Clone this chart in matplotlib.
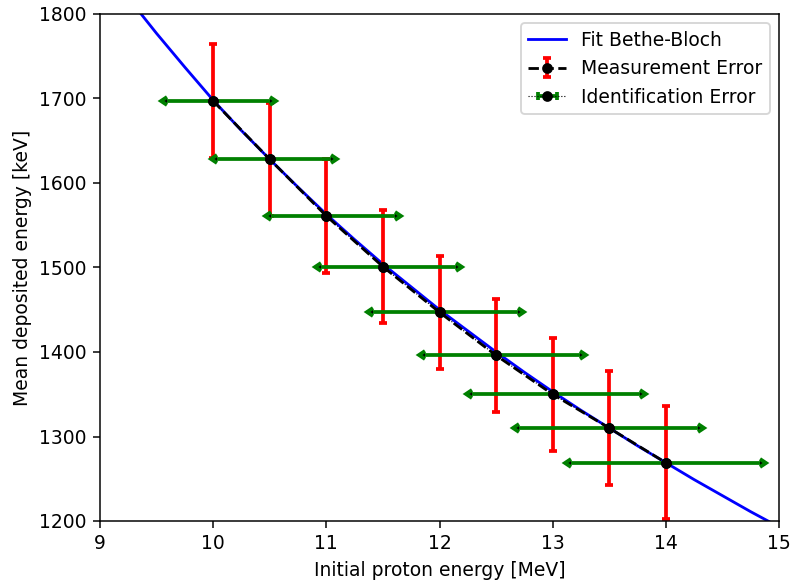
import matplotlib
matplotlib.use("Agg")
import matplotlib.pyplot as plt
from matplotlib import lines as mlines

# Measured points: initial proton energy vs. mean deposited energy
energy = [10.0, 10.5, 11.0, 11.5, 12.0, 12.5, 13.0, 13.5, 14.0]
deposit = [1697, 1628, 1561, 1501, 1447, 1396, 1350, 1310, 1269]
deposit_err = [67, 67, 67, 67, 67, 67, 67, 67, 67]
energy_err_lo = [0.41, 0.47, 0.49, 0.55, 0.59, 0.63, 0.71, 0.80, 0.84]
energy_err_hi = [0.50, 0.54, 0.61, 0.65, 0.69, 0.74, 0.77, 0.78, 0.83]

# Bethe-Bloch fit curve, tabulated
fit_energy = [9.0, 9.25, 9.5, 9.75, 10.0, 10.25, 10.5, 10.75, 11.0, 11.25,
              11.5, 11.75, 12.0, 12.25, 12.5, 12.75, 13.0, 13.25, 13.5,
              13.75, 14.0, 14.25, 14.5, 14.75, 15.0]
fit_deposit = [1862, 1819, 1777, 1737, 1698, 1662, 1628, 1595, 1563, 1533,
               1504, 1477, 1450, 1425, 1400, 1376, 1353, 1331, 1310,
               1289, 1269, 1249, 1230, 1211, 1193]

plt.rcParams['font.family'] = ['DejaVu Sans']
plt.rcParams['font.size'] = 10

fig = plt.figure(figsize=(792 / 135, 583 / 135), dpi=135)
ax = fig.add_axes([100 / 792, 1 - 521 / 583, 679 / 792, 507 / 583])

ax.plot(fit_energy, fit_deposit, color='blue', lw=1.5, label='Fit Bethe-Bloch')

ax.errorbar(energy, deposit, yerr=deposit_err, fmt='o--', color='black',
            ms=4.7, lw=1.5, ecolor='red', elinewidth=2, capsize=2, capthick=2,
            label='Measurement Error')

eb = ax.errorbar(energy, deposit, xerr=[energy_err_lo, energy_err_hi],
                 fmt='o:', color='black', ms=4.7, lw=0.6, ecolor='green',
                 elinewidth=2, capsize=2, capthick=2,
                 label='Identification Error')
# arrow heads at both ends of the energy uncertainty bars
for cap, head in zip(eb[1], [mlines.CARETLEFTBASE, mlines.CARETRIGHTBASE]):
    cap.set_marker(head)
    cap.set_markersize(4.6)

ax.set_xlim(9, 15)
ax.set_ylim(1200, 1800)
ax.set_xticks([9, 10, 11, 12, 13, 14, 15])
ax.set_yticks([1200, 1300, 1400, 1500, 1600, 1700, 1800])
ax.set_xlabel('Initial proton energy [MeV]')
ax.set_ylabel('Mean deposited energy [keV]')
ax.legend(loc='upper right')

fig.savefig('out.png', dpi=135)
